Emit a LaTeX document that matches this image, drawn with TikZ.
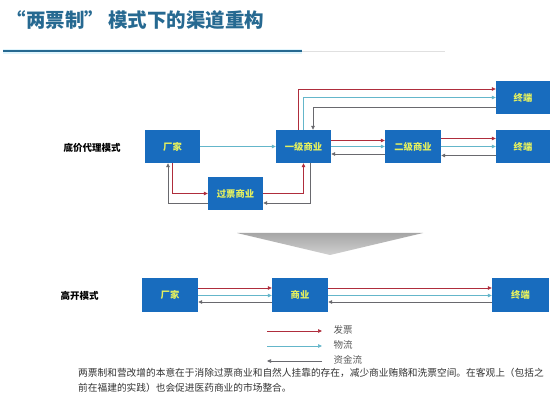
\documentclass[tikz,border=0pt]{standalone}
\usepackage{fontspec}
\setmainfont{Noto Sans CJK SC}
\usetikzlibrary{arrows.meta}

\definecolor{boxblue}{RGB}{24,108,190}
\definecolor{boxtext}{RGB}{228,240,95}
\definecolor{invred}{RGB}{175,45,60}
\definecolor{goodscyan}{RGB}{100,182,202}
\definecolor{cashgray}{RGB}{105,105,110}
\definecolor{titleblue}{RGB}{38,105,145}

\begin{document}
\begin{tikzpicture}[
  x=1pt, y=-1pt,
  unit/.style={fill=boxblue, minimum width=55pt, minimum height=33pt,
    inner sep=0pt, text=boxtext, font=\fontsize{9.3}{10}\selectfont\bfseries},
  mode/.style={anchor=west, font=\fontsize{9.5}{11}\selectfont\bfseries},
  flow/.style={line width=0.7pt, -{Triangle[length=4pt,width=3.5pt]}},
  inv/.style={flow, draw=invred},
  goods/.style={flow, draw=goodscyan},
  cash/.style={flow, draw=cashgray},
  legend/.style={anchor=west, text=black!65, font=\fontsize{9.5}{10}\selectfont},
]
\useasboundingbox[fill=white] (0,0) rectangle (555,417);

% title
\node[anchor=west, text=titleblue, font=\fontsize{19.5}{22}\selectfont\bfseries]
  (title) at (3,20) {“两票制” 模式下的渠道重构};
\draw[cyan!12, line width=5pt] (3,51.5) -- (302,51.5);
\draw[titleblue, line width=2pt] (3,51.5) -- (302,51.5);
\draw[black!12, line width=1.5pt] (302,51.5) -- (445,51.5);

% low price agency mode
\node[mode] (modeA) at (60,148) {底价代理模式};
\node[unit] (F1) at (172.5,146.5) {厂家};
\node[unit] (L1) at (303.5,146.5) {一级商业};
\node[unit, minimum width=56pt] (L2) at (413,146.5) {二级商业};
\node[unit, minimum width=54pt] (T1) at (523,97.5) {终端};
\node[unit, minimum width=54pt] (T2) at (523,146.5) {终端};
\node[unit] (G) at (235.5,193.5) {过票商业};

\draw[goods] (F1.east) -- (L1.west);
\draw[inv] (F1.south) |- (G.west);
\draw[cash] ([yshift=-9.5pt]G.west) -| ([xshift=-4.5pt]F1.south);
\draw[inv] (G.east) -| (L1.south);
\draw[cash] ([xshift=6.5pt]L1.south) |- ([yshift=-9.5pt]G.east);

\draw[inv] ([xshift=-5.5pt]L1.north) |- ([yshift=8.5pt]T1.west);
\draw[goods] ([xshift=-0.5pt]L1.north) |- (T1.west);
\draw[cash] ([yshift=-9.5pt]T1.west) -| ([xshift=9.5pt]L1.north);

\draw[inv] ([yshift=6pt]L1.east) -- ([yshift=6pt]L2.west);
\draw[goods] (L1.east) -- (L2.west);
\draw[cash] ([yshift=-7.5pt]L2.west) -- ([yshift=-7.5pt]L1.east);
\draw[inv] ([yshift=8pt]L2.east) -- ([yshift=8pt]T2.west);
\draw[goods] (L2.east) -- (T2.west);
\draw[cash] ([yshift=-9pt]T2.west) -- ([yshift=-9pt]L2.east);

% arrow between modes
\shade[top color=black!35, bottom color=black!18] (237,233) -- (423,233) -- (330,255) -- cycle;

% high invoice mode
\node[mode] (modeB) at (57,296) {高开模式};
\node[unit, minimum width=56pt, minimum height=34pt] (F2) at (170,295) {厂家};
\node[unit, minimum width=56pt, minimum height=34pt] (B2) at (300,295) {商业};
\node[unit, minimum width=57pt, minimum height=34pt] (T3) at (520.5,295) {终端};

\draw[inv] ([yshift=7pt]F2.east) -- ([yshift=7pt]B2.west);
\draw[goods] ([yshift=-0.5pt]F2.east) -- ([yshift=-0.5pt]B2.west);
\draw[cash] ([yshift=-7pt]B2.west) -- ([yshift=-7pt]F2.east);
\draw[inv] ([yshift=7pt]B2.east) -- ([yshift=7pt]T3.west);
\draw[goods] ([yshift=-0.5pt]B2.east) -- ([yshift=-0.5pt]T3.west);
\draw[cash] ([yshift=-7pt]T3.west) -- ([yshift=-7pt]B2.east);

% legend
\coordinate (invA) at (267,331);
\coordinate (invB) at (322,331);
\coordinate (goodsA) at (267,346);
\coordinate (goodsB) at (322,346);
\coordinate (cashA) at (267,361);
\coordinate (cashB) at (322,361);
\node[legend] (invL) at (330,330) {发票};
\node[legend] (goodsL) at (330,345) {物流};
\node[legend] (cashL) at (330,360) {资金流};
\draw[inv] (invA) -- (invB);
\draw[goods] (goodsA) -- (goodsB);
\draw[cash] (cashB) -- (cashA);

% note
\node[anchor=north west, align=left, inner sep=0pt, text=black!80,
  font=\fontsize{9.7}{14.5}\selectfont] (note) at (78,368)
  {两票制和营改增的本意在于消除过票商业和自然人挂靠的存在，减少商业贿赂和洗票空间。在客观上（包括之\\
   前在福建的实践）也会促进医药商业的市场整合。};
\end{tikzpicture}
\end{document}
